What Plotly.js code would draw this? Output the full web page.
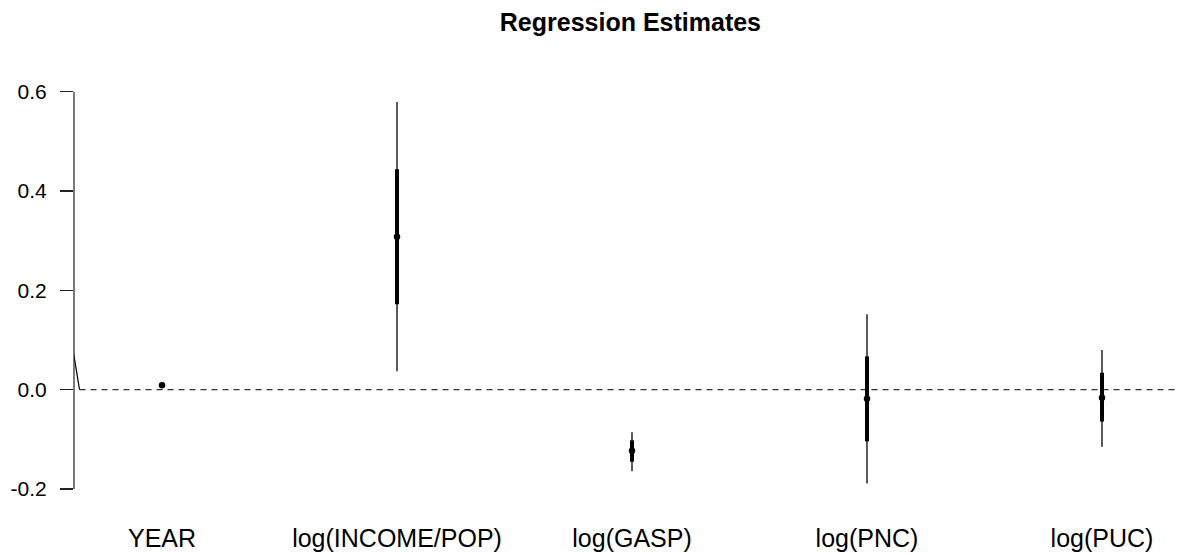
<!DOCTYPE html>
<html>
<head>
<meta charset="utf-8">
<script src="https://cdn.plot.ly/plotly-3.0.1.min.js"></script>
<style>html,body{margin:0;padding:0;background:#fff;}#chart{width:1178px;height:554px;}</style>
</head>
<body>
<div id="chart"></div>
<script>
// ---- data ----
const variables = ["YEAR", "log(INCOME/POP)", "log(GASP)", "log(PNC)", "log(PUC)"];
const estimates = [0.0087, 0.308, -0.123, -0.018, -0.016];
const lower1se  = [0.0070, 0.172, -0.145, -0.104, -0.064];
const upper1se  = [0.0104, 0.444, -0.102,  0.067,  0.034];
const lower2se  = [0.0053, 0.037, -0.164, -0.189, -0.115];
const upper2se  = [0.0121, 0.579, -0.0855, 0.152,  0.080];
const yTickVals = [-0.2, 0.0, 0.2, 0.4, 0.6];
const yTickText = ["-0.2", "0.0", "0.2", "0.4", "0.6"];
const refLineY  = 0;
// small stray segment near the axis in the reference
const strayX = [-0.3766, -0.351];
const strayY = [0.074, 0.0];

const xIdx = variables.map((_, i) => i);
const FONT = "Liberation Sans, Arial, Helvetica, sans-serif";

const thin = {
  type: "scatter", mode: "markers", x: xIdx, y: estimates,
  marker: {size: 0.1, color: "rgba(0,0,0,0)"},
  error_y: {type: "data", symmetric: false,
    array: upper2se.map((u, i) => u - estimates[i]),
    arrayminus: estimates.map((e, i) => e - lower2se[i]),
    width: 0, thickness: 1.3, color: "#000"},
  hoverinfo: "skip", showlegend: false
};
const thick = {
  type: "scatter", mode: "markers", x: xIdx, y: estimates,
  marker: {size: 0.1, color: "rgba(0,0,0,0)"},
  error_y: {type: "data", symmetric: false,
    array: upper1se.map((u, i) => u - estimates[i]),
    arrayminus: estimates.map((e, i) => e - lower1se[i]),
    width: 0, thickness: 4, color: "#000"},
  hoverinfo: "skip", showlegend: false
};
const pts = {
  type: "scatter", mode: "markers", x: xIdx, y: estimates,
  marker: {size: 6.5, color: "#000", symbol: "circle"},
  showlegend: false
};
const stray = {
  type: "scatter", mode: "lines", x: strayX, y: strayY,
  line: {color: "#000", width: 1.2}, hoverinfo: "skip", showlegend: false
};
const zeroLine = {
  type: "scatter", mode: "lines", x: [strayX[1], 4.33], y: [refLineY, refLineY],
  line: {color: "#333", width: 1.2, dash: "6px,5px"}, hoverinfo: "skip", showlegend: false
};

const layout = {
  width: 1178, height: 554,
  margin: {l: 74, r: 0, t: 60, b: 54},
  paper_bgcolor: "#fff", plot_bgcolor: "#fff",
  font: {family: FONT, color: "#000"},
  title: {text: "Regression Estimates", font: {family: FONT, size: 25, weight: "bold", color: "#000"},
    x: 0.504, xref: "paper", xanchor: "center", y: 1 - 22.5/554, yref: "container", yanchor: "middle"},
  xaxis: {range: [-0.3745, 4.3234], tickvals: xIdx, ticktext: variables,
    showgrid: false, zeroline: false, showline: false, ticks: "",
    tickfont: {size: 25, family: FONT, color: "#000"}, ticklabelstandoff: 21, fixedrange: true},
  yaxis: {range: [-0.2221, 0.6638], tickvals: yTickVals, ticktext: yTickText,
    showgrid: false, zeroline: false, showline: false, ticks: "outside", ticklen: 13,
    tickwidth: 1.2, tickcolor: "#222", tickfont: {size: 21, family: FONT, color: "#000"},
    ticklabelstandoff: 9, fixedrange: true},
  shapes: [{type: "line", xref: "paper", yref: "y", x0: 0, x1: 0,
    y0: yTickVals[0], y1: yTickVals[yTickVals.length - 1], line: {color: "#222", width: 1.2}}]
};

Plotly.newPlot("chart", [zeroLine, stray, thin, thick, pts], layout, {displayModeBar: false, staticPlot: true});
</script>
</body>
</html>
